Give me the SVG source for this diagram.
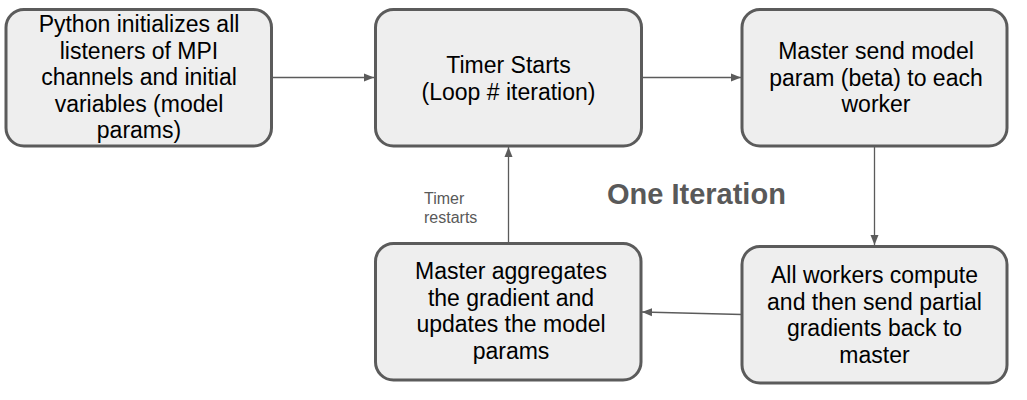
<svg xmlns="http://www.w3.org/2000/svg" width="1027" height="400" viewBox="0 0 1027 400">
<style>
.box{fill:#eeeeee;stroke:#5b5b5b;stroke-width:3}
.t{font-family:"Liberation Sans",Arial,sans-serif;font-size:23px;fill:#000;text-anchor:middle}
.c{fill:none;stroke:#5b5b5b;stroke-width:1.3}
.lbl{font-family:"Liberation Sans",Arial,sans-serif;font-size:16px;fill:#595959}
.title{font-family:"Liberation Sans",Arial,sans-serif;font-size:29px;font-weight:bold;fill:#595959}
</style>
<defs>
<marker id="ah" viewBox="0 0 10 10" refX="10" refY="5" markerWidth="10" markerHeight="10" markerUnits="userSpaceOnUse" orient="auto">
<path d="M0,1 L10,5 L0,9 Z" fill="#5b5b5b"/>
</marker>
</defs>
<g id="connectors">
<line class="c" x1="272" y1="77.5" x2="374" y2="77.5" marker-end="url(#ah)"/>
<line class="c" x1="642" y1="77.5" x2="741" y2="77.5" marker-end="url(#ah)"/>
<line class="c" x1="874.5" y1="146" x2="874.5" y2="245" marker-end="url(#ah)"/>
<line class="c" x1="742" y1="314.5" x2="642" y2="312" marker-end="url(#ah)"/>
<line class="c" x1="508.5" y1="243" x2="508.5" y2="147" marker-end="url(#ah)"/>
</g>
<g id="node-python">
<rect class="box" x="6" y="9.5" width="265.5" height="136.5" rx="18"/>
<text class="t"><tspan x="139" y="32">Python initializes all</tspan><tspan x="139" y="58.5">listeners of MPI</tspan><tspan x="139" y="85">channels and initial</tspan><tspan x="139" y="111.5">variables (model</tspan><tspan x="139" y="138">params)</tspan></text>
</g>
<g id="node-timer">
<rect class="box" x="375.5" y="9.5" width="266" height="136.5" rx="18"/>
<text class="t"><tspan x="508.5" y="73">Timer Starts</tspan><tspan x="508.5" y="99.5">(Loop # iteration)</tspan></text>
</g>
<g id="node-send">
<rect class="box" x="742" y="9.5" width="265" height="136.5" rx="18"/>
<text class="t"><tspan x="876" y="59">Master send model</tspan><tspan x="876" y="85.5">param (beta) to each</tspan><tspan x="876" y="112">worker</tspan></text>
</g>
<g id="node-aggregate">
<rect class="box" x="375.5" y="243.5" width="265.5" height="136.5" rx="18"/>
<text class="t"><tspan x="511" y="279">Master aggregates</tspan><tspan x="511" y="305.5">the gradient and</tspan><tspan x="511" y="332">updates the model</tspan><tspan x="511" y="358.5">params</tspan></text>
</g>
<g id="node-workers">
<rect class="box" x="742" y="246.5" width="265" height="136.5" rx="18"/>
<text class="t"><tspan x="874.5" y="283">All workers compute</tspan><tspan x="874.5" y="309.5">and then send partial</tspan><tspan x="874.5" y="336">gradients back to</tspan><tspan x="874.5" y="362.5">master</tspan></text>
</g>
<g id="labels">
<text class="lbl"><tspan x="424" y="204">Timer</tspan><tspan x="424" y="223">restarts</tspan></text>
<text class="title" x="607" y="204">One Iteration</text>
</g>
</svg>
